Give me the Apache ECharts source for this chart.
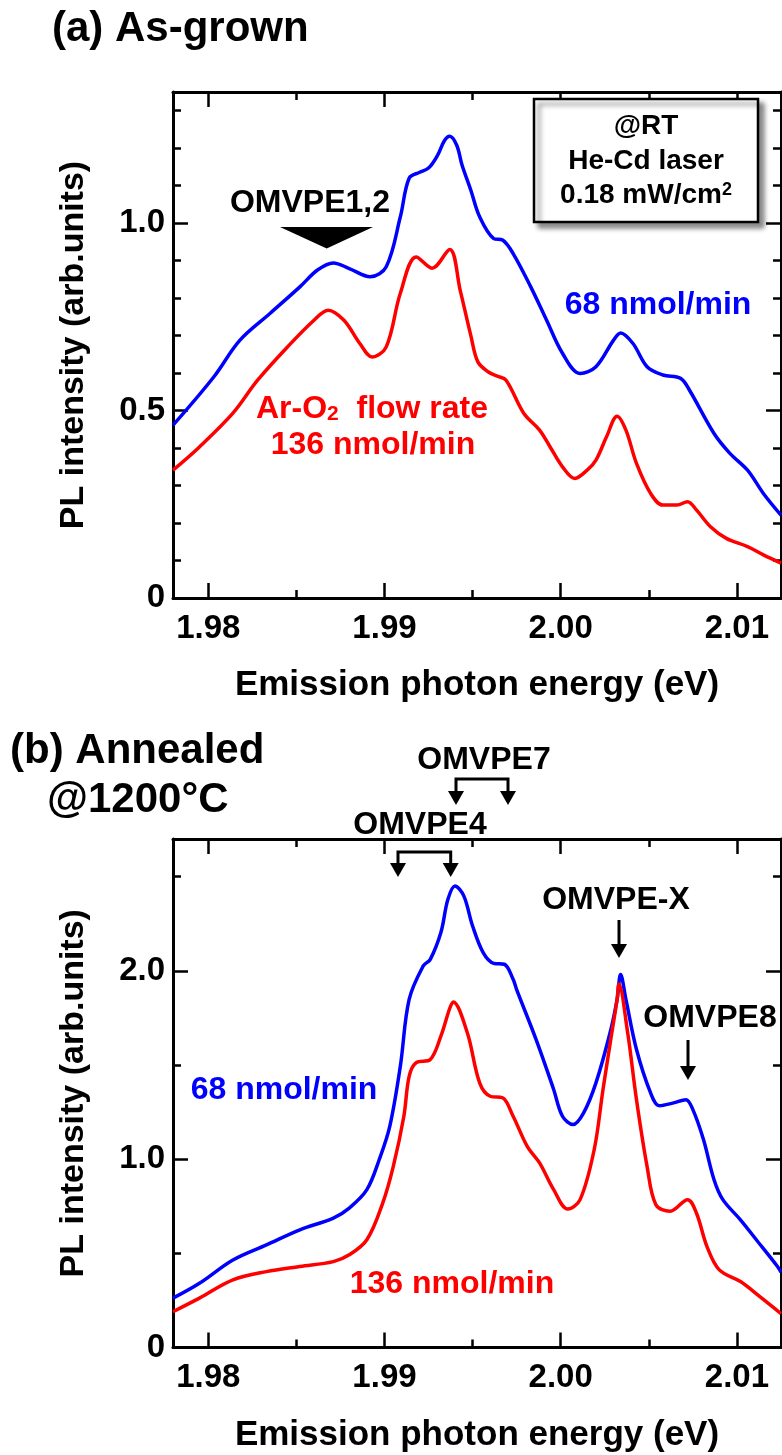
<!DOCTYPE html>
<html><head><meta charset="utf-8">
<script src="https://cdn.jsdelivr.net/npm/echarts@6/dist/echarts.min.js"></script>
<style>html,body{margin:0;padding:0;background:#fff}#c{width:782px;height:1455px}</style>
</head><body><div id="c"></div>
<script>
const FONT = '"Liberation Sans", Arial, sans-serif';

// ---- tick values ----
const xMajorTicks = [1.98, 1.99, 2.00, 2.01];
const xMinorTicks = [1.985, 1.995, 2.005];
const yMajorTicksA = [0, 0.5, 1.0];
const yMinorTicksA = [0.1, 0.2, 0.3, 0.4, 0.6, 0.7, 0.8, 0.9, 1.1, 1.2, 1.3];
const yMajorTicksB = [0, 1.0, 2.0];
const yMinorTicksB = [0.5, 1.5, 2.5];
const xRange = [1.978, 2.0125];
const yRangeA = [0, 1.35];
const yRangeB = [0, 2.7];

// ---- (a) As-grown ----
const eBlueA = [1.9780,1.9803,1.9818,1.9835,1.9852,1.9862,1.9871,1.9880,1.9892,1.9901,1.9909,1.9914,1.9920,1.9925,1.9930,1.9934,1.9937,1.9941,1.9944,1.9949,1.9954,1.9962,1.9967,1.9973,1.9983,1.9992,2.0001,2.0011,2.0020,2.0030,2.0034,2.0041,2.0049,2.0058,2.0068,2.0073,2.0087,2.0096,2.0106,2.0115,2.0125];
const iBlueA = [0.461,0.589,0.688,0.759,0.830,0.875,0.894,0.879,0.857,0.884,1.017,1.12,1.136,1.147,1.18,1.22,1.232,1.208,1.155,1.088,1.017,0.959,0.955,0.919,0.830,0.741,0.653,0.599,0.617,0.688,0.707,0.679,0.617,0.595,0.586,0.555,0.439,0.386,0.341,0.279,0.221];
const eRedA = [1.9780,1.9795,1.9814,1.9828,1.9845,1.9860,1.9868,1.9877,1.9886,1.9893,1.9901,1.9909,1.9918,1.9927,1.9937,1.9943,1.9949,1.9953,1.9959,1.9964,1.9969,1.9979,1.9988,1.9994,2.0001,2.0008,2.0015,2.0020,2.0026,2.0032,2.0037,2.0043,2.0051,2.0058,2.0066,2.0072,2.0077,2.0085,2.0094,2.0106,2.0115,2.0125];
const iRedA = [0.341,0.403,0.493,0.581,0.670,0.741,0.768,0.741,0.679,0.643,0.670,0.813,0.91,0.88,0.93,0.82,0.70,0.63,0.603,0.592,0.581,0.493,0.448,0.403,0.35,0.319,0.341,0.368,0.43,0.485,0.448,0.359,0.279,0.248,0.248,0.257,0.235,0.19,0.159,0.137,0.115,0.093];

// ---- (b) Annealed @1200°C ----
const eBlueB = [1.9780,1.9795,1.9814,1.9833,1.9852,1.9871,1.9880,1.9890,1.9897,1.9903,1.9909,1.9914,1.9922,1.9926,1.9932,1.9936,1.9940,1.9945,1.9950,1.9956,1.9962,1.9968,1.9973,1.9975,1.9986,1.9996,2.0001,2.0007,2.0013,2.0020,2.0028,2.0032,2.0034,2.0037,2.0043,2.0051,2.0056,2.0064,2.0071,2.0075,2.0081,2.0087,2.0092,2.0102,2.0111,2.0123,2.0125];
const iBlueB = [0.262,0.341,0.465,0.545,0.625,0.687,0.740,0.838,0.997,1.174,1.494,1.848,2.026,2.061,2.203,2.38,2.451,2.398,2.238,2.097,2.04,2.035,1.955,1.90,1.636,1.37,1.228,1.184,1.246,1.405,1.671,1.848,1.981,1.848,1.582,1.352,1.284,1.299,1.316,1.263,1.104,0.891,0.785,0.678,0.572,0.43,0.40];
const eRedB = [1.9780,1.9795,1.9814,1.9833,1.9852,1.9871,1.9880,1.9890,1.9899,1.9905,1.9911,1.9914,1.9918,1.9926,1.9932,1.9937,1.9939,1.9947,1.9954,1.9960,1.9967,1.9973,1.9981,1.9988,1.9996,2.0004,2.0011,2.0019,2.0024,2.0029,2.0032,2.0033,2.0038,2.0043,2.0049,2.0054,2.0062,2.0072,2.0077,2.0083,2.0090,2.0102,2.0113,2.0125];
const iRedB = [0.19,0.262,0.359,0.403,0.43,0.456,0.492,0.572,0.767,0.962,1.228,1.44,1.512,1.529,1.653,1.80,1.835,1.671,1.405,1.334,1.326,1.228,1.068,0.98,0.838,0.735,0.785,1.051,1.37,1.671,1.848,1.93,1.671,1.316,0.962,0.758,0.723,0.785,0.714,0.536,0.412,0.35,0.27,0.18];

const zip = (a, b) => a.map((v, i) => [v, b[i]]);

const chart = echarts.init(document.getElementById('c'), null, {renderer: 'canvas'});

const grids = [
  {left: 173, top: 92, width: 608, height: 506},
  {left: 173, top: 839, width: 608, height: 508.5}
];

const TICK = {color: '#000', width: 2.5};

function xAxes(g) {
  const base = {gridIndex: g, type: 'value', min: xRange[0], max: xRange[1], splitLine: {show: false}};
  const line = {show: true, onZero: false, lineStyle: {color: '#000', width: 3}};
  const noLine = {show: false, onZero: false};
  return [
    Object.assign({}, base, {position: 'bottom', axisLine: line,
      axisTick: {show: true, inside: true, length: 15, lineStyle: TICK, customValues: xMajorTicks},
      axisLabel: {show: true, customValues: xMajorTicks, formatter: v => v.toFixed(2), fontFamily: FONT, fontWeight: 'bold', fontSize: 33, color: '#000', margin: 14},
      name: 'Emission photon energy (eV)', nameLocation: 'middle', nameGap: 70,
      nameTextStyle: {fontFamily: FONT, fontWeight: 'bold', fontSize: 35, color: '#000'}}),
    Object.assign({}, base, {position: 'bottom', axisLine: noLine,
      axisTick: {show: true, inside: true, length: 8, lineStyle: TICK, customValues: xMinorTicks},
      axisLabel: {show: false}}),
    Object.assign({}, base, {position: 'top', axisLine: line,
      axisTick: {show: true, inside: true, length: 15, lineStyle: TICK, customValues: xMajorTicks},
      axisLabel: {show: false}}),
    Object.assign({}, base, {position: 'top', axisLine: noLine,
      axisTick: {show: true, inside: true, length: 8, lineStyle: TICK, customValues: xMinorTicks},
      axisLabel: {show: false}})
  ];
}

function yAxes(g, range, major, minor) {
  const base = {gridIndex: g, type: 'value', min: range[0], max: range[1], splitLine: {show: false}};
  const line = {show: true, onZero: false, lineStyle: {color: '#000', width: 3}};
  const noLine = {show: false, onZero: false};
  return [
    Object.assign({}, base, {position: 'left', axisLine: line,
      axisTick: {show: true, inside: true, length: 15, lineStyle: TICK, customValues: major},
      axisLabel: {show: true, customValues: major, formatter: v => v === 0 ? '0' : v.toFixed(1), fontFamily: FONT, fontWeight: 'bold', fontSize: 33, color: '#000', margin: 8},
      name: 'PL intensity (arb.units)', nameLocation: 'middle', nameGap: 82, nameRotate: 90,
      nameTextStyle: {fontFamily: FONT, fontWeight: 'bold', fontSize: 34, color: '#000'}}),
    Object.assign({}, base, {position: 'left', axisLine: noLine,
      axisTick: {show: true, inside: true, length: 8, lineStyle: TICK, customValues: minor},
      axisLabel: {show: false}}),
    Object.assign({}, base, {position: 'right', axisLine: line,
      axisTick: {show: true, inside: true, length: 15, lineStyle: TICK, customValues: major},
      axisLabel: {show: false}}),
    Object.assign({}, base, {position: 'right', axisLine: noLine,
      axisTick: {show: true, inside: true, length: 8, lineStyle: TICK, customValues: minor},
      axisLabel: {show: false}})
  ];
}

function lineSeries(data, color, xi, yi) {
  return {type: 'line', data: data, xAxisIndex: xi, yAxisIndex: yi, showSymbol: false, smooth: 0.35,
    lineStyle: {color: color, width: 3.5}, itemStyle: {color: color}, animation: false, clip: true};
}

const txt = (x, y, text, color, size, align) => ({type: 'text', x: x, y: y, z: 100,
  style: {text: text, fill: color || '#000', font: 'bold ' + (size || 32) + 'px ' + FONT, textAlign: align || 'center', textVerticalAlign: 'middle'}});

function arrowDown(x, yTop, yTip) {
  return [
    {type: 'line', z: 100, shape: {x1: x, y1: yTop, x2: x, y2: yTip - 10}, style: {stroke: '#000', lineWidth: 3}},
    {type: 'polygon', z: 100, shape: {points: [[x - 8, yTip - 14], [x + 8, yTip - 14], [x, yTip]]}, style: {fill: '#000'}}
  ];
}
function bracket(x1, x2, yTop, yTip) {
  return [
    {type: 'polyline', z: 100, shape: {points: [[x1, yTip - 10], [x1, yTop], [x2, yTop], [x2, yTip - 10]]}, style: {stroke: '#000', lineWidth: 3, fill: null}},
    {type: 'polygon', z: 100, shape: {points: [[x1 - 8, yTip - 14], [x1 + 8, yTip - 14], [x1, yTip]]}, style: {fill: '#000'}},
    {type: 'polygon', z: 100, shape: {points: [[x2 - 8, yTip - 14], [x2 + 8, yTip - 14], [x2, yTip]]}, style: {fill: '#000'}}
  ];
}

const graphics = [
  txt(52, 29, '(a) As-grown', '#000', 42, 'left'),
  txt(10, 751, '(b) Annealed', '#000', 42, 'left'),
  txt(47, 800, '@1200°C', '#000', 42, 'left'),
  // box (a)
  {type: 'rect', z: 100, shape: {x: 534, y: 99, width: 224, height: 123},
   style: {fill: '#fff', stroke: '#000', lineWidth: 2.5, shadowBlur: 5, shadowOffsetX: 5, shadowOffsetY: 5, shadowColor: 'rgba(0,0,0,0.45)'}},
  txt(646, 126, '@RT', '#000', 28),
  txt(646, 161, 'He-Cd laser', '#000', 28),
  {type: 'text', z: 100, x: 646, y: 195,
   style: {text: '{n|0.18 mW/cm}{p|2}', textAlign: 'center', textVerticalAlign: 'middle',
     rich: {n: {font: 'bold 28px ' + FONT, fill: '#000', lineHeight: 28, verticalAlign: 'bottom'},
            p: {font: 'bold 18px ' + FONT, fill: '#000', lineHeight: 18, verticalAlign: 'top'}}}},
  txt(310, 203, 'OMVPE1,2', '#000', 32),
  {type: 'polygon', z: 100, shape: {points: [[280, 227], [373, 227], [326.7, 248.5]]}, style: {fill: '#000'}},
  txt(658, 305, '68 nmol/min', '#0000ff', 32),
  {type: 'text', z: 100, x: 372, y: 409,
   style: {text: '{n|Ar-O}{s|2}{n|  flow rate}', textAlign: 'center', textVerticalAlign: 'middle',
     rich: {n: {font: 'bold 32px ' + FONT, fill: '#ff0000', lineHeight: 32, verticalAlign: 'top'},
            s: {font: 'bold 21px ' + FONT, fill: '#ff0000', lineHeight: 21, verticalAlign: 'bottom', padding: [16, 0, 0, 0]}}}},
  txt(373, 445, '136 nmol/min', '#ff0000', 32),
  // (b)
  txt(484, 760, 'OMVPE7', '#000', 32),
  ...bracket(456, 508, 779, 805),
  txt(420, 825, 'OMVPE4', '#000', 32),
  ...bracket(398, 450.7, 852, 877),
  txt(616, 900, 'OMVPE-X', '#000', 32),
  ...arrowDown(619, 920, 958),
  txt(710, 1018, 'OMVPE8', '#000', 32),
  ...arrowDown(688, 1040, 1080),
  txt(284, 1090, '68 nmol/min', '#0000ff', 32),
  txt(452, 1284, '136 nmol/min', '#ff0000', 32)
];

chart.setOption({
  animation: false,
  backgroundColor: '#fff',
  grid: grids,
  xAxis: [...xAxes(0), ...xAxes(1)],
  yAxis: [...yAxes(0, yRangeA, yMajorTicksA, yMinorTicksA), ...yAxes(1, yRangeB, yMajorTicksB, yMinorTicksB)],
  series: [
    lineSeries(zip(eBlueA, iBlueA), '#0000ff', 0, 0),
    lineSeries(zip(eRedA, iRedA), '#ff0000', 0, 0),
    lineSeries(zip(eBlueB, iBlueB), '#0000ff', 4, 4),
    lineSeries(zip(eRedB, iRedB), '#ff0000', 4, 4)
  ],
  graphic: graphics
});
</script></body></html>
